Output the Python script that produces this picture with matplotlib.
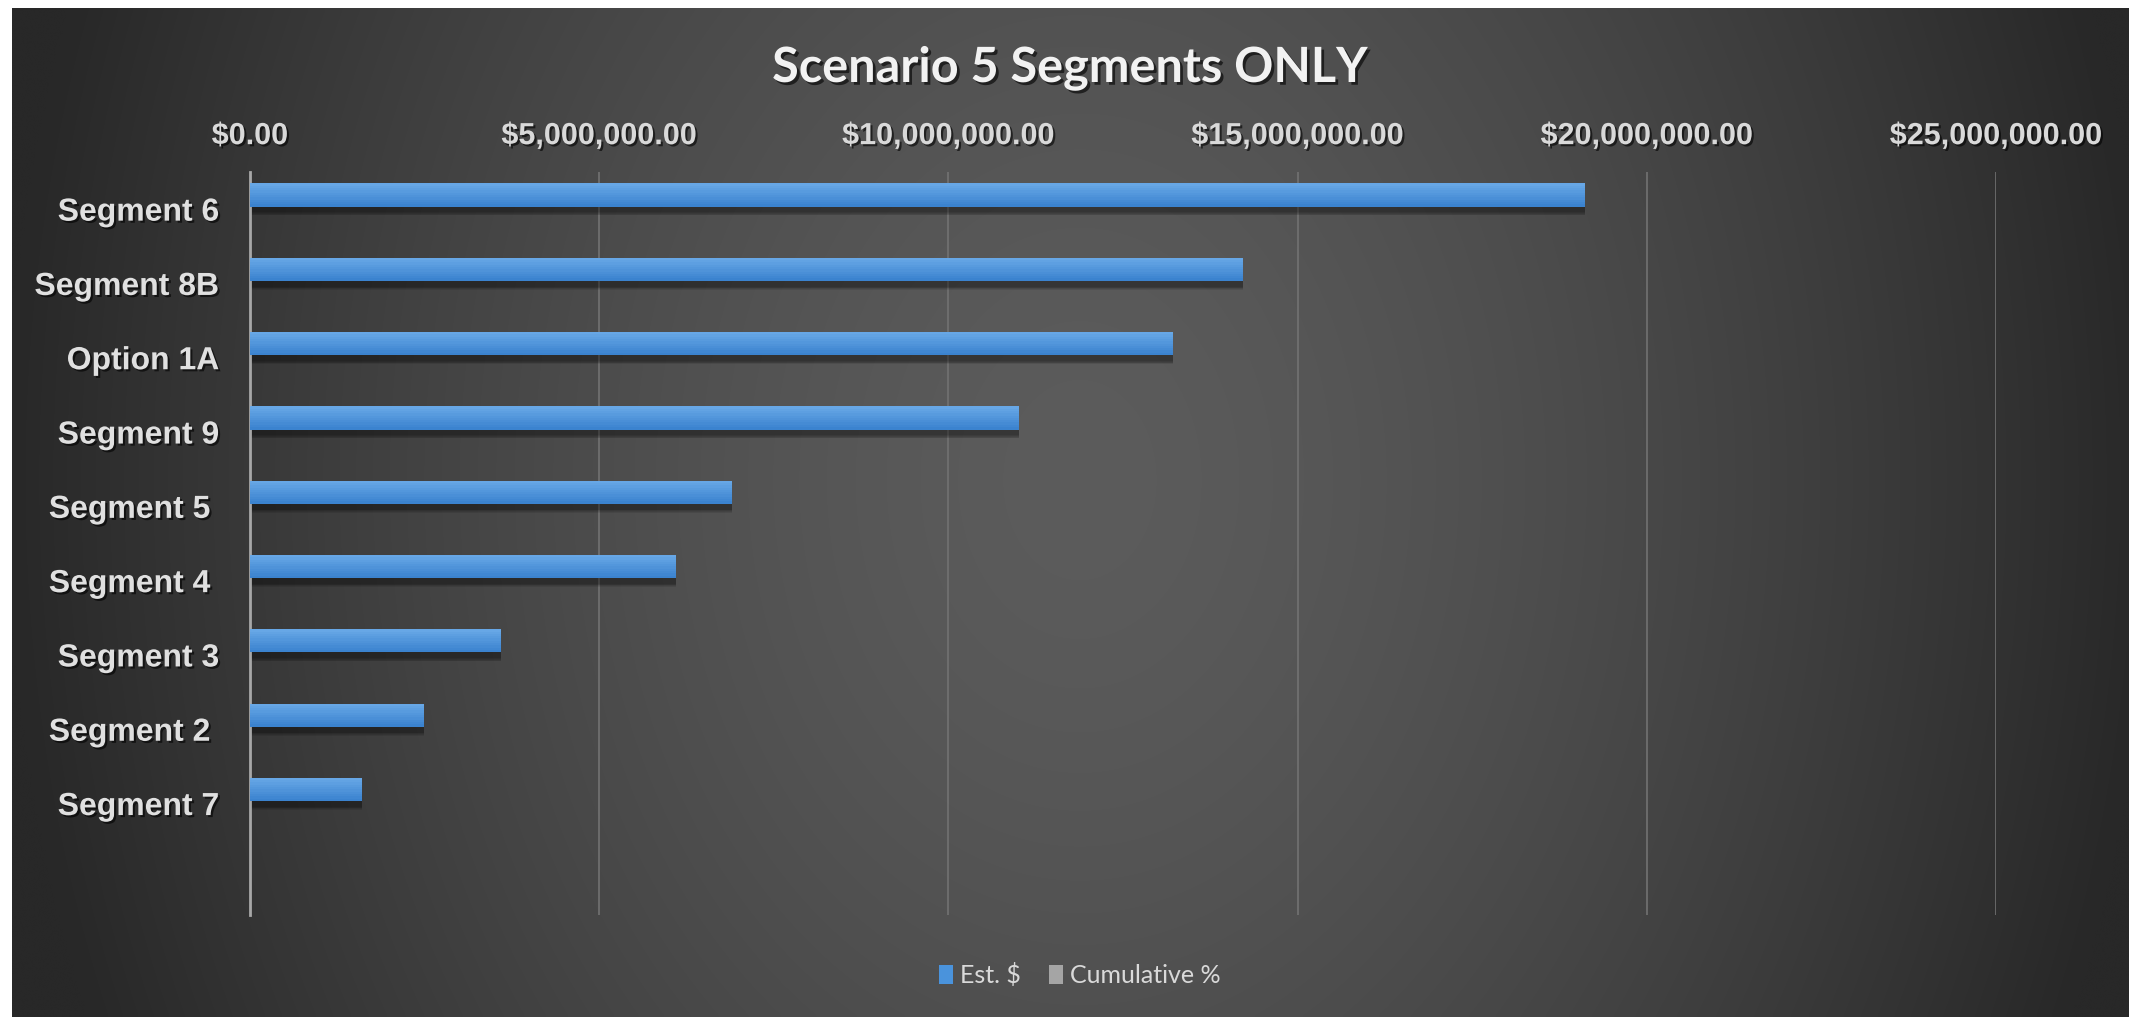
import numpy as np
import matplotlib
matplotlib.use("Agg")
import matplotlib.pyplot as plt
import matplotlib.patheffects as pe
from matplotlib.patches import Patch
from matplotlib.ticker import FuncFormatter, FixedLocator
from matplotlib.colors import to_rgb
from matplotlib import font_manager as fm

# ---------------- data ----------------
categories = ["Segment 6", "Segment 8B", "Option 1A", "Segment 9", "Segment 5 ",
              "Segment 4 ", "Segment 3", "Segment 2 ", "Segment 7"]
est_dollars = [19110000, 14220000, 13210000, 11010000, 6900000,
               6100000, 3590000, 2490000, 1600000]
series_names = ["Est. $", "Cumulative %"]
x_ticks = [0, 5000000, 10000000, 15000000, 20000000, 25000000]
title = "Scenario 5 Segments ONLY"

# ---------------- fonts ----------------
names = {f.name for f in fm.fontManager.ttflist}
narrow = "Liberation Sans Narrow" if "Liberation Sans Narrow" in names else "Liberation Sans"
title_font = "Lato" if "Lato" in names else "DejaVu Sans"

W, H = 2129, 1017
fig = plt.figure(figsize=(W / 100, H / 100), dpi=100, facecolor="white")

# ---------------- background (radial gradient) ----------------
left_white, top_white = 12, 8
bg = fig.add_axes([left_white / W, 0, 1 - left_white / W, 1 - top_white / H])
bg.set_axis_off()
xs = np.linspace(left_white, W, 600)
ys = np.linspace(top_white, H, 300)
X, Y = np.meshgrid(xs, ys)
cx, cy, rx, ry = 1080, 480, 1070, 1400
r = np.clip(np.sqrt(((X - cx) / rx) ** 2 + ((Y - cy) / ry) ** 2), 0, 1)
v = (92 - 52 * r ** 1.5) / 255.0
img = np.dstack([v, v, v])
bg.imshow(img, aspect="auto", extent=[0, 1, 0, 1], interpolation="bicubic")
bg.set_xlim(0, 1)
bg.set_ylim(0, 1)

# ---------------- main axes ----------------
ax = fig.add_axes([250 / W, 1 - 915 / H, (1996 - 250) / W, (915 - 172) / H])
ax.patch.set_alpha(0)
ax.set_xlim(0, 25000000)
ax.set_ylim(9.5, -0.5)

pos = np.arange(len(categories))
bar_off, bar_h = -0.19, 0.31

# soft shadows below bars
for k in range(5):
    grow = 0.10 - k * 0.02
    ax.barh(pos + bar_off + 0.07, est_dollars, height=bar_h + grow,
            color="black", alpha=0.09, linewidth=0, zorder=2)
# main bar as vertical gradient (top light -> bottom darker)
top_c = np.array(to_rgb("#67a7e6"))
bot_c = np.array(to_rgb("#3b83cf"))
n_strips = 10
for i in range(n_strips):
    f = i / (n_strips - 1)
    c = top_c * (1 - f) + bot_c * f
    sh = bar_h / n_strips
    ax.barh(pos + bar_off - bar_h / 2 + sh * (i + 0.5), est_dollars, height=sh * 1.05,
            color=c, linewidth=0, zorder=3)

ax.xaxis.tick_top()
ax.xaxis.set_major_locator(FixedLocator(x_ticks))
ax.xaxis.set_major_formatter(FuncFormatter(lambda v, p: "${:,.2f}".format(v)))
ax.set_yticks(pos)
ax.set_yticklabels(categories)

ax.tick_params(axis="x", length=0, pad=15, labelsize=22, labelcolor="#d9d9d9")
ax.tick_params(axis="y", length=0, pad=22, labelsize=23, labelcolor="#e0e0e0")
shadow = [pe.SimplePatchShadow(offset=(1.5, -1.5), shadow_rgbFace="black", alpha=0.6), pe.Normal()]
for lab in ax.get_xticklabels():
    lab.set_fontfamily(narrow)
    lab.set_fontweight("bold")
    lab.set_path_effects(shadow)
for lab in ax.get_yticklabels():
    lab.set_fontfamily("Liberation Sans")
    lab.set_fontweight("bold")
    lab.set_path_effects(shadow)

for t in x_ticks[1:]:
    ax.axvline(t, color="#727272", linewidth=1.2, zorder=1)
for s in ["top", "right", "bottom"]:
    ax.spines[s].set_visible(False)
ax.spines["left"].set_color("#a8a8a8")
ax.spines["left"].set_linewidth(2)

# ---------------- title ----------------
fig.text(1070 / W, 1 - 82 / H, title, ha="center", va="baseline",
         fontsize=35, fontfamily=title_font, fontweight="bold", color="#f2f2f2",
         path_effects=[pe.SimplePatchShadow(offset=(2, -2), shadow_rgbFace="black", alpha=0.6), pe.Normal()])

# ---------------- legend ----------------
handles = [Patch(facecolor="#4a93dc", edgecolor="none"),
           Patch(facecolor="#a5a5a5", edgecolor="none")]
leg = fig.legend(handles, series_names, loc="center", bbox_to_anchor=(1080 / W, 1 - 975 / H),
                 ncol=2, frameon=False, handlelength=0.55, handleheight=0.8,
                 handletextpad=0.3, columnspacing=1.1,
                 prop={"family": title_font, "size": 18})
for t in leg.get_texts():
    t.set_color("#d9d9d9")

fig.savefig("out.png", dpi=100, facecolor="white")
